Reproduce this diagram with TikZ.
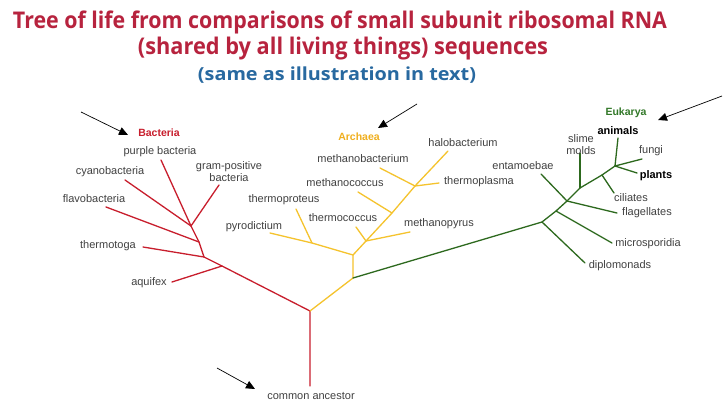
\documentclass[tikz,border=0pt]{standalone}
\usepackage{fontspec}
\usepackage{graphicx}
\setmainfont{Liberation Sans}
\newfontfamily\titlefont{Open Sans}
\usetikzlibrary{arrows.meta}
\definecolor{titlered}{RGB}{183,35,62}
\definecolor{titleblue}{RGB}{40,105,160}
\definecolor{bred}{RGB}{200,30,45}
\definecolor{ayel}{RGB}{245,195,45}
\definecolor{egreen}{RGB}{45,105,30}
\definecolor{labgray}{RGB}{65,65,65}
\definecolor{archlab}{RGB}{240,175,30}
\definecolor{eukalab}{RGB}{50,120,40}
\begin{document}
\begin{tikzpicture}[x=1pt,y=-1pt,
  lab/.style={font=\fontsize{11}{12}\selectfont, text=labgray, inner sep=0pt, align=center},
  blab/.style={font=\fontsize{11}{12}\selectfont\bfseries, text=black, inner sep=0pt},
  grp/.style={font=\fontsize{10.5}{12}\selectfont\bfseries, inner sep=0pt},
  bbr/.style={draw=bred, line width=1.3pt, line cap=round, line join=round},
  abr/.style={draw=ayel, line width=1.3pt, line cap=round, line join=round},
  ebr/.style={draw=egreen, line width=1.3pt, line cap=round, line join=round},
  pointer/.style={draw=black, line width=0.7pt, -{Triangle[length=9pt,width=8pt]}},
  ttl/.style={font=\titlefont\bfseries\fontsize{23}{23}\selectfont, inner sep=0pt},
]
\useasboundingbox (0,0) rectangle (726,407);
\fill[white] (0,0) rectangle (726,407);

% titles
\node[ttl, text=titlered] (t1) at (340,22) {\resizebox{654pt}{\height}{Tree of life from comparisons of small subunit ribosomal RNA}};
\node[ttl, text=titlered] (t2) at (343,49) {\resizebox{410pt}{\height}{(shared by all living things) sequences}};
\node[ttl, text=titleblue, font=\titlefont\bfseries\fontsize{18}{18}\selectfont] (t3) at (337,75) {\resizebox{278pt}{\height}{(same as illustration in text)}};

% ---------- Bacteria ----------
\coordinate (root) at (310,311);
\coordinate (bot) at (310,386);
\coordinate (bA) at (191,226);
\coordinate (bB) at (199,242);
\coordinate (bC) at (204,257);
\coordinate (bD) at (222,266);
\coordinate (tpurple) at (161,160);
\coordinate (tcyano) at (125,180);
\coordinate (tgram) at (219,185);
\coordinate (tflavo) at (106,207);
\coordinate (ttoga) at (143,247);
\coordinate (taqui) at (172,282);

\draw[bbr] (bot) -- (root) -- (bD) -- (bC) -- (bB) -- (bA) -- (tpurple);
\draw[bbr] (bA) -- (tcyano);
\draw[bbr] (bA) -- (tgram);
\draw[bbr] (bB) -- (tflavo);
\draw[bbr] (bC) -- (ttoga);
\draw[bbr] (bD) -- (taqui);

\node[grp, text=bred] (bacteria) at (159,133) {Bacteria};
\node[lab] (purple) at (160,152) {purple bacteria};
\node[lab] (cyano) at (110,172) {cyanobacteria};
\node[lab] (gram) at (229,172) {gram-positive\\bacteria};
\node[lab] (flavo) at (94,199) {flavobacteria};
\node[lab] (toga) at (108,246) {thermotoga};
\node[lab] (aqui) at (149,283) {aquifex};
\node[lab] (ancestor) at (311,396) {common ancestor};

% ---------- Archaea ----------
\coordinate (y1) at (353,278);
\coordinate (y2) at (353,255);
\coordinate (ya) at (312,243);
\coordinate (s1) at (366,241);
\coordinate (s2) at (392,213);
\coordinate (s3) at (415,186);
\coordinate (thalo) at (448,151);
\coordinate (tpyro) at (270,233);
\coordinate (tproteus) at (296,209);
\coordinate (tcoccus2) at (356,227);
\coordinate (tpyrus) at (410,232);
\coordinate (tcoccus) at (358,192);
\coordinate (tmbact) at (380,168);
\coordinate (tplasma) at (439,183);

\draw[abr] (root) -- (y1) -- (y2) -- (s1) -- (s2) -- (s3) -- (thalo);
\draw[abr] (y2) -- (ya) -- (tpyro);
\draw[abr] (ya) -- (tproteus);
\draw[abr] (s1) -- (tcoccus2);
\draw[abr] (s1) -- (tpyrus);
\draw[abr] (s2) -- (tcoccus);
\draw[abr] (s3) -- (tmbact);
\draw[abr] (s3) -- (tplasma);

\node[grp, text=archlab] (archaea) at (359,137) {Archaea};
\node[lab] (halo) at (463,143) {halobacterium};
\node[lab] (mbact) at (363,159) {methanobacterium};
\node[lab] (mcoccus) at (345,183) {methanococcus};
\node[lab] (plasma) at (479,182) {thermoplasma};
\node[lab] (proteus) at (284,200) {thermoproteus};
\node[lab] (tcocc) at (343,218) {thermococcus};
\node[lab] (pyro) at (254,227) {pyrodictium};
\node[lab] (pyrus) at (439,224) {methanopyrus};

% ---------- Eukarya ----------
\coordinate (e1) at (542,222);
\coordinate (e2) at (556,211);
\coordinate (e3) at (567,201);
\coordinate (e4) at (580,188);
\coordinate (e5) at (602,175);
\coordinate (e6) at (615,166);
\coordinate (tdiplo) at (585,263);
\coordinate (tmicro) at (612,243);
\coordinate (tflag) at (617,213);
\coordinate (tentam) at (541,174);
\coordinate (tslime) at (580,153);
\coordinate (tcil) at (614,193);
\coordinate (tanim) at (618,138);
\coordinate (tfungi) at (642,159);
\coordinate (tplant) at (637,173);

\draw[ebr] (y1) -- (e1) -- (e2) -- (e3) -- (e4) -- (e5) -- (e6) -- (tanim);
\draw[ebr] (e1) -- (tdiplo);
\draw[ebr] (e2) -- (tmicro);
\draw[ebr] (e3) -- (tflag);
\draw[ebr] (e3) -- (tentam);
\draw[ebr] (e4) -- (tslime);
\draw[ebr] (e5) -- (tcil);
\draw[ebr] (e6) -- (tfungi);
\draw[ebr] (e6) -- (tplant);

\node[grp, text=eukalab] (eukarya) at (626,113) {Eukarya};
\node[blab] (animals) at (618,131) {animals};
\node[lab] (slime) at (581,145) {slime\\molds};
\node[lab] (fungi) at (651,151) {fungi};
\node[lab] (entam) at (523,166) {entamoebae};
\node[blab] (plants) at (656,176) {plants};
\node[lab] (cil) at (631,198) {ciliates};
\node[lab] (flag) at (647,213) {flagellates};
\node[lab] (micro) at (648,244) {microsporidia};
\node[lab] (diplo) at (620,266) {diplomonads};

% ---------- pointer arrows ----------
\coordinate (pb0) at (81,112);  \coordinate (pb1) at (128,135);
\coordinate (pa0) at (417,104); \coordinate (pa1) at (378,128);
\coordinate (pe0) at (722,96);  \coordinate (pe1) at (658,120);
\coordinate (pc0) at (217,368); \coordinate (pc1) at (255,389);
\draw[pointer] (pb0) -- (pb1);
\draw[pointer] (pa0) -- (pa1);
\draw[pointer] (pe0) -- (pe1);
\draw[pointer] (pc0) -- (pc1);
\end{tikzpicture}
\end{document}
